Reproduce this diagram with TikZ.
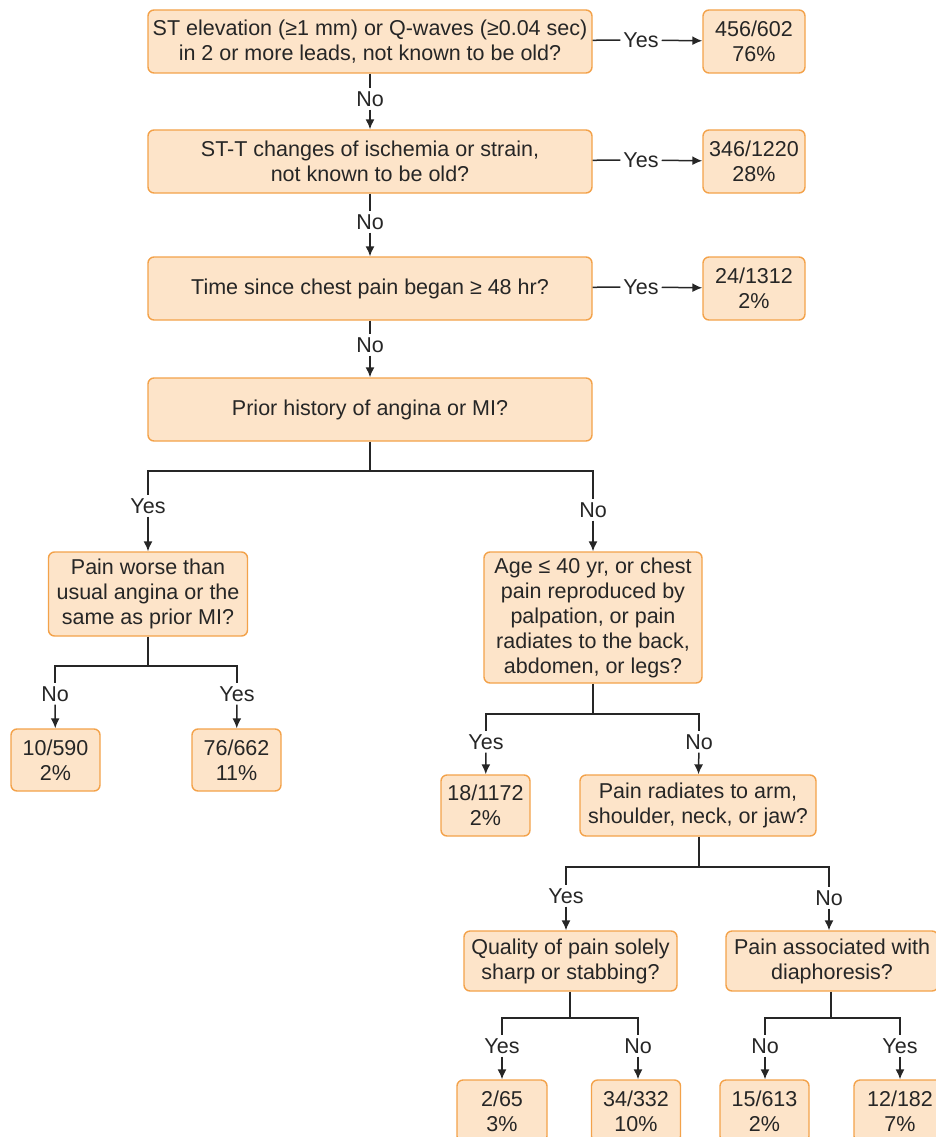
\documentclass[tikz,border=0pt]{standalone}
\usepackage{fontspec}
\setmainfont{Liberation Sans}
\usetikzlibrary{arrows.meta}
\definecolor{boxfill}{HTML}{FDE4C9}
\definecolor{boxline}{HTML}{F3A24A}
\definecolor{ink}{HTML}{262626}
\begin{document}
\begin{tikzpicture}[x=1pt,y=-1pt,
  every node/.style={font=\fontsize{21.5}{25}\selectfont, text=ink},
  qbox/.style={draw=boxline, fill=boxfill, line width=1.4pt, rounded corners=6pt,
    align=center, inner sep=0pt},
  lbl/.style={inner sep=3pt, align=center},
  conn/.style={draw=ink, line width=1.5pt},
  arr/.style={conn, -{Latex[length=10pt,width=9pt]}}
]
\clip (0,0) rectangle (936,1137);
\useasboundingbox (0,0) rectangle (936,1137);

% main question column
\node[qbox, minimum width=444, minimum height=63] (A) at (370,41.5)
  {ST elevation (≥1 mm) or Q-waves (≥0.04 sec)\\in 2 or more leads, not known to be old?};
\node[qbox, minimum width=102, minimum height=63] (R1) at (754,41.5) {456/602\\76\%};
\node[qbox, minimum width=444, minimum height=63] (B) at (370,161.5)
  {ST-T changes of ischemia or strain,\\not known to be old?};
\node[qbox, minimum width=102, minimum height=63] (R2) at (754,161.5) {346/1220\\28\%};
\node[qbox, minimum width=444, minimum height=63] (C) at (370,288.5)
  {Time since chest pain began ≥ 48 hr?};
\node[qbox, minimum width=102, minimum height=63] (R3) at (754,288.5) {24/1312\\2\%};
\node[qbox, minimum width=444, minimum height=63] (D) at (370,409.5)
  {Prior history of angina or MI?};

\node[lbl] (yA) at (641,40) {Yes};
\node[lbl] (yB) at (641,160) {Yes};
\node[lbl] (yC) at (641,287) {Yes};
\node[lbl] (nA) at (370,99) {No};
\node[lbl] (nB) at (370,222) {No};
\node[lbl] (nC) at (370,345) {No};

\draw[conn] (A) -- (yA); \draw[arr] (yA) -- (R1);
\draw[conn] (B) -- (yB); \draw[arr] (yB) -- (R2);
\draw[conn] (C) -- (yC); \draw[arr] (yC) -- (R3);
\draw[conn] (A) -- (nA); \draw[arr] (nA) -- (B);
\draw[conn] (B) -- (nB); \draw[arr] (nB) -- (C);
\draw[conn] (C) -- (nC); \draw[arr] (nC) -- (D);

% prior history split
\node[qbox, minimum width=199, minimum height=84] (E) at (148,594)
  {Pain worse than\\usual angina or the\\same as prior MI?};
\node[qbox, minimum width=218, minimum height=131] (F) at (593,617.5)
  {Age ≤ 40 yr, or chest\\pain reproduced by\\palpation, or pain\\radiates to the back,\\abdomen, or legs?};
\coordinate (dJ) at (370,471);
\node[lbl] (yD) at (148,506) {Yes};
\node[lbl] (nD) at (593,510) {No};
\draw[conn] (D) -- (dJ);
\draw[conn] (dJ) -| (yD); \draw[arr] (yD) -- (E);
\draw[conn] (dJ) -| (nD); \draw[arr] (nD) -- (F);

% prior angina/MI branch
\node[qbox, minimum width=89, minimum height=62] (R4) at (55.5,760) {10/590\\2\%};
\node[qbox, minimum width=89, minimum height=62] (R5) at (236.5,760) {76/662\\11\%};
\coordinate (eJ) at (148,666);
\node[lbl] (nE) at (55,694) {No};
\node[lbl] (yE) at (237,694) {Yes};
\draw[conn] (E) -- (eJ);
\draw[conn] (eJ) -| (nE); \draw[arr] (nE) -- (R4);
\draw[conn] (eJ) -| (yE); \draw[arr] (yE) -- (R5);

% no prior angina/MI branch
\node[qbox, minimum width=89, minimum height=61] (R6) at (485.5,805.5) {18/1172\\2\%};
\node[qbox, minimum width=236, minimum height=61] (G) at (698,805.5)
  {Pain radiates to arm,\\shoulder, neck, or jaw?};
\coordinate (fJ) at (593,714);
\node[lbl] (yF) at (486,742) {Yes};
\node[lbl] (nF) at (699,742) {No};
\draw[conn] (F) -- (fJ);
\draw[conn] (fJ) -| (yF); \draw[arr] (yF) -- (R6);
\draw[conn] (fJ) -| (nF); \draw[arr] (nF) -- (G);

% radiation split
\node[qbox, minimum width=213, minimum height=60] (H) at (570.5,961)
  {Quality of pain solely\\sharp or stabbing?};
\node[qbox, minimum width=212, minimum height=60] (I) at (832,961)
  {Pain associated with\\diaphoresis?};
\coordinate (gJ) at (699,867);
\node[lbl] (yG) at (566,896) {Yes};
\node[lbl] (nG) at (829,898) {No};
\draw[conn] (G.south -| gJ) -- (gJ);
\draw[conn] (gJ) -| (yG); \draw[arr] (yG) -- (H.north -| yG);
\draw[conn] (gJ) -| (nG); \draw[arr] (nG) -- (I.north -| nG);

% leaves
\node[qbox, minimum width=90, minimum height=62] (R7) at (502,1111) {2/65\\3\%};
\node[qbox, minimum width=89, minimum height=62] (R8) at (636,1111) {34/332\\10\%};
\node[qbox, minimum width=89, minimum height=62] (R9) at (764.5,1111) {15/613\\2\%};
\node[qbox, minimum width=92, minimum height=62] (R10) at (900,1111) {12/182\\7\%};

\coordinate (hJ) at (570,1018);
\node[lbl] (yH) at (502,1046) {Yes};
\node[lbl] (nH) at (638,1046) {No};
\draw[conn] (H.south -| hJ) -- (hJ);
\draw[conn] (hJ) -| (yH); \draw[arr] (yH) -- (R7.north -| yH);
\draw[conn] (hJ) -| (nH); \draw[arr] (nH) -- (R8.north -| nH);

\coordinate (iJ) at (831,1018);
\node[lbl] (nI) at (765,1046) {No};
\node[lbl] (yI) at (900,1046) {Yes};
\draw[conn] (I.south -| iJ) -- (iJ);
\draw[conn] (iJ) -| (nI); \draw[arr] (nI) -- (R9.north -| nI);
\draw[conn] (iJ) -| (yI); \draw[arr] (yI) -- (R10);
\end{tikzpicture}
\end{document}
